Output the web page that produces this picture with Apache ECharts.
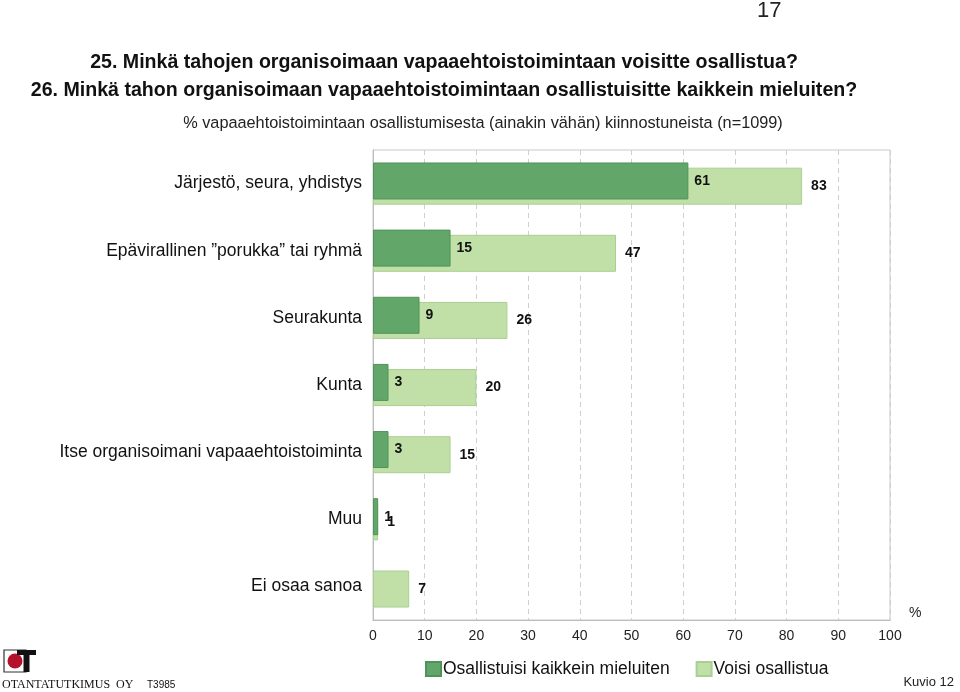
<!DOCTYPE html>
<html><head><meta charset="utf-8">
<script src="https://cdn.jsdelivr.net/npm/echarts@6/dist/echarts.min.js"></script>
<style>html,body{margin:0;padding:0;background:#fff}#c{width:960px;height:692px}</style>
</head><body><div id="c"></div>
<script>
const categories = ['Järjestö, seura, yhdistys','Epävirallinen ”porukka” tai ryhmä','Seurakunta','Kunta','Itse organisoimani vapaaehtoistoiminta','Muu','Ei osaa sanoa'];
const mostPreferred = [61, 15, 9, 3, 3, 1, 0];
const couldParticipate = [83, 47, 26, 20, 15, 1, 7];
const seriesNames = ['Osallistuisi kaikkein mieluiten','Voisi osallistua'];
const xTicks = [0,10,20,30,40,50,60,70,80,90,100];

const FONT = '"Liberation Sans", Arial, sans-serif';
const chart = echarts.init(document.getElementById('c'));
chart.setOption({
  backgroundColor:'#fff',
  animation:false,
  textStyle:{fontFamily:FONT},
  title:[{
    text:'25. Minkä tahojen organisoimaan vapaaehtoistoimintaan voisitte osallistua?\n26. Minkä tahon organisoimaan vapaaehtoistoimintaan osallistuisitte kaikkein mieluiten?',
    left:439, top:44, textAlign:'center',
    textStyle:{fontFamily:FONT,fontSize:19.6,fontWeight:'bold',color:'#111',lineHeight:28}
  },{
    text:'% vapaaehtoistoimintaan osallistumisesta (ainakin vähän) kiinnostuneista (n=1099)',
    left:478, top:111, textAlign:'center',
    textStyle:{fontFamily:FONT,fontSize:16.3,fontWeight:'normal',color:'#222'}
  }],
  legend:{
    data:seriesNames, left:420, top:655, itemWidth:15, itemHeight:14, itemGap:26,
    icon:'rect',
    textStyle:{fontFamily:FONT,fontSize:17.5,color:'#111',padding:[0,0,0,-3]}
  },
  grid:{left:373,right:70,top:150,bottom:72,show:true,borderColor:'#c8c8c8',borderWidth:1},
  xAxis:{
    type:'value',min:0,max:100,interval:10,
    name:'%',nameLocation:'end',nameGap:19,
    nameTextStyle:{fontSize:14,color:'#222',verticalAlign:'bottom'},
    axisLine:{show:true,lineStyle:{color:'#bdbdbd'}},
    axisTick:{show:false},
    axisLabel:{fontSize:14,color:'#222',margin:9,formatter:v=>xTicks.includes(v)?String(v):''},
    splitLine:{show:true,lineStyle:{color:'#cfcfcf',type:[5,4]}}
  },
  yAxis:{
    type:'category',data:categories,inverse:true,
    axisLine:{show:true,lineStyle:{color:'#bdbdbd'}},
    axisTick:{show:false},
    axisLabel:{fontSize:17.5,color:'#111',margin:11}
  },
  series:[{
    name:seriesNames[0],type:'bar',data:mostPreferred.map(v=>v===0?'-':v),barWidth:37,barGap:'-86%',z:3,
    itemStyle:{color:'#63a66a',borderColor:'#4f9358',borderWidth:1},
    label:{show:true,position:'right',distance:6,fontSize:14,fontWeight:'bold',color:'#111'}
  },{
    name:seriesNames[1],type:'bar',data:couldParticipate,barWidth:37,z:2,
    itemStyle:{color:'#c0e0a8',borderColor:'#a9cf92',borderWidth:1},
    label:{show:true,position:'right',distance:9,fontSize:14,fontWeight:'bold',color:'#111'}
  }],
  graphic:[
    {type:'text',left:757,top:0,style:{text:'17',font:'22px '+FONT,fill:'#222'}},
    {type:'text',right:6,top:676,style:{text:'Kuvio 12',font:'13px '+FONT,fill:'#222'}},
    {type:'rect',shape:{x:4,y:650,width:22,height:22},style:{fill:'#fff',stroke:'#333',lineWidth:1.2}},
    {type:'circle',shape:{cx:15,cy:661,r:7.5},style:{fill:'#b5102c'}},
    {type:'rect',shape:{x:17,y:650,width:19,height:5},style:{fill:'#111'}},
    {type:'rect',shape:{x:23.5,y:650,width:6,height:22},style:{fill:'#111'}},
    {type:'text',left:2,top:679,style:{text:'OTANTATUTKIMUS  OY',font:'12px "Liberation Serif", serif',fill:'#111'}},
    {type:'text',left:147,top:680,style:{text:'T3985',font:'10px '+FONT,fill:'#111'}}
  ]
});
</script></body></html>
